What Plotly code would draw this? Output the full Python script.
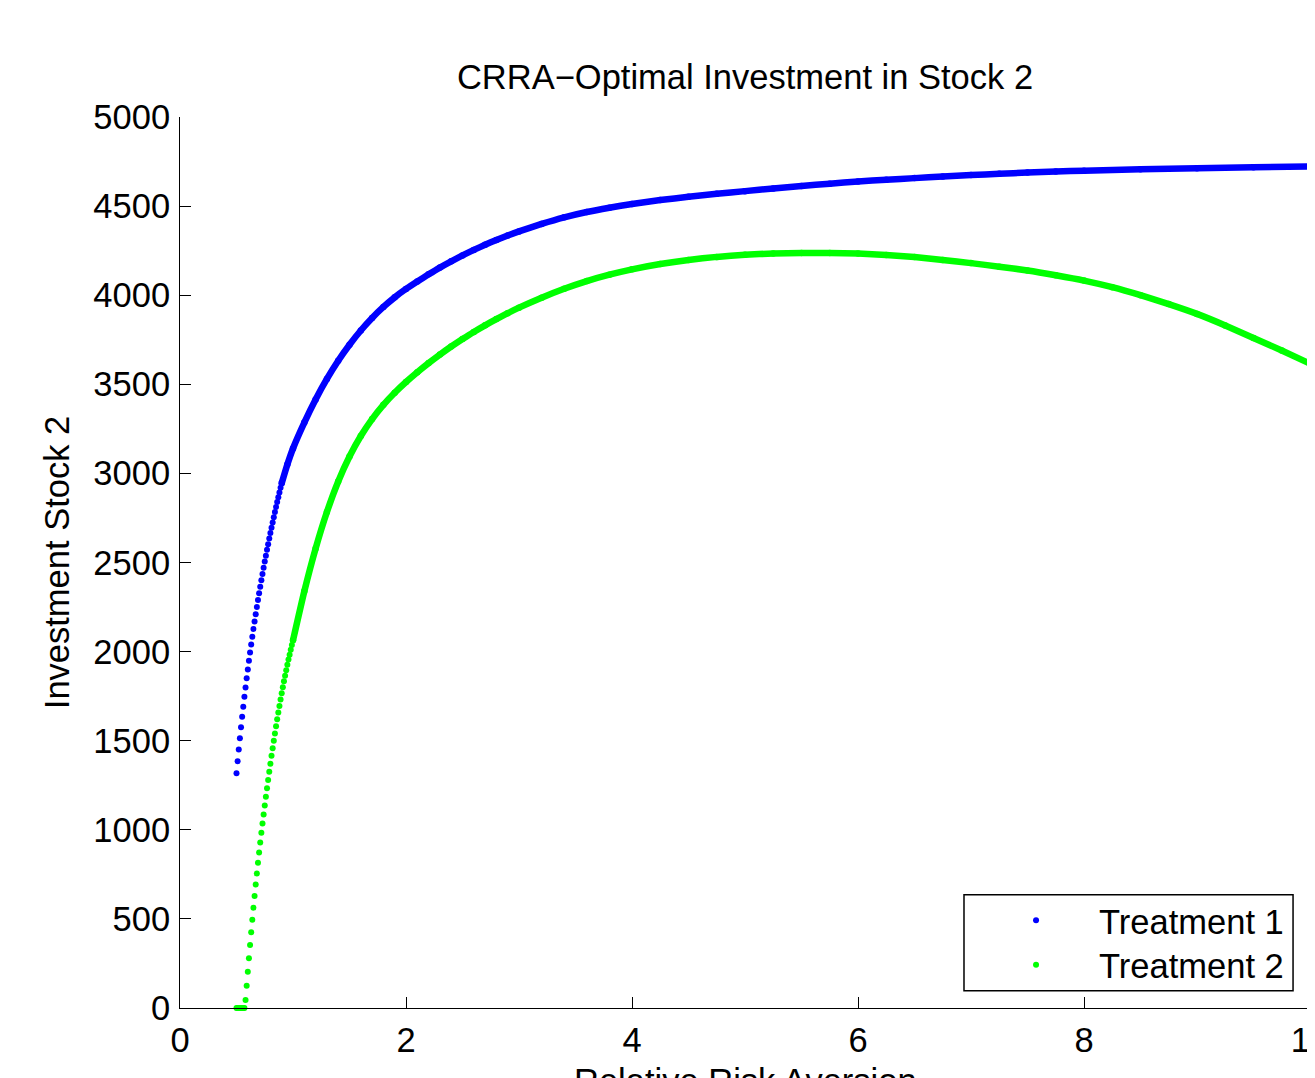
import plotly.graph_objects as go

# ---- data ----
# Treatment 1: densely sampled start (distinct dots)
t1_x_dots = [0.50, 0.51, 0.52, 0.53, 0.54, 0.55, 0.56, 0.57, 0.58, 0.59,
             0.60, 0.61, 0.62, 0.63, 0.64, 0.65, 0.66, 0.67, 0.68, 0.69,
             0.70, 0.71, 0.72, 0.73, 0.74, 0.75, 0.76, 0.77, 0.78, 0.79,
             0.80, 0.81, 0.82, 0.83, 0.84, 0.85, 0.86, 0.87, 0.88, 0.89, 0.90]
t1_y_dots = [1317, 1385, 1451, 1514, 1575, 1634, 1691, 1746, 1799, 1850,
             1900, 1948, 1995, 2040, 2084, 2127, 2169, 2210, 2250, 2289,
             2327, 2364, 2400, 2436, 2471, 2505, 2538, 2571, 2603, 2634,
             2665, 2695, 2725, 2754, 2783, 2811, 2839, 2866, 2893, 2919, 2945]
# Treatment 1: remaining dense band
t1_x_band = [0.95, 1.0, 1.1, 1.2, 1.3, 1.4, 1.5, 1.6, 1.7, 1.8, 1.9, 2.0,
             2.1, 2.2, 2.3, 2.4, 2.5, 2.6, 2.7, 2.8, 2.9, 3.0, 3.2, 3.4,
             3.6, 3.8, 4.0, 4.25, 4.5, 4.75, 5.0, 5.25, 5.5, 5.75, 6.0,
             6.25, 6.5, 6.75, 7.0, 7.25, 7.5, 7.75, 8.0, 8.5, 9.0, 9.5, 10.0]
t1_y_band = [3050, 3140, 3285, 3415, 3530, 3632, 3722, 3802, 3872, 3934, 3988, 4035,
             4077, 4117, 4155, 4190, 4223, 4254, 4283, 4310, 4335, 4358, 4400, 4437,
             4467, 4491, 4512, 4534, 4552, 4569, 4584, 4599, 4613, 4626, 4638,
             4648, 4657, 4666, 4674, 4681, 4688, 4694, 4699, 4707, 4713, 4718, 4722]

# Treatment 2: densely sampled start (distinct dots)
t2_x_dots = [0.50, 0.51, 0.52, 0.53, 0.54, 0.55, 0.56, 0.57, 0.58, 0.59,
             0.60, 0.61, 0.62, 0.63, 0.64, 0.65, 0.66, 0.67, 0.68, 0.69,
             0.70, 0.71, 0.72, 0.73, 0.74, 0.75, 0.76, 0.77, 0.78, 0.79,
             0.80, 0.81, 0.82, 0.83, 0.84, 0.85, 0.86, 0.87, 0.88, 0.89,
             0.90, 0.91, 0.92, 0.93, 0.94, 0.95, 0.96, 0.97, 0.98, 0.99, 1.00]
t2_y_dots = [0, 0, 0, 0, 0, 0, 0, 0, 45, 125,
             203, 279, 353, 425, 495, 563, 629, 693, 755, 815,
             873, 929, 983, 1035, 1086, 1136, 1185, 1233, 1280, 1326,
             1371, 1415, 1458, 1500, 1541, 1581, 1620, 1658, 1695, 1731,
             1766, 1800, 1833, 1865, 1896, 1926, 1955, 1983, 2010, 2037, 2063]
# Treatment 2: remaining dense band
t2_x_band = [1.1, 1.2, 1.3, 1.4, 1.5, 1.6, 1.7, 1.8, 1.9, 2.0, 2.1, 2.2,
             2.3, 2.4, 2.5, 2.6, 2.7, 2.8, 2.9, 3.0, 3.2, 3.4, 3.6, 3.8,
             4.0, 4.25, 4.5, 4.75, 5.0, 5.25, 5.5, 5.75, 6.0, 6.25, 6.5,
             6.75, 7.0, 7.25, 7.5, 7.75, 8.0, 8.25, 8.5, 8.75, 9.0, 9.25,
             9.5, 9.75, 10.0]
t2_y_band = [2338, 2578, 2783, 2955, 3095, 3210, 3305, 3385, 3453, 3513, 3568, 3619,
             3667, 3712, 3754, 3794, 3831, 3866, 3899, 3930, 3986, 4036, 4079, 4115,
             4145, 4175, 4198, 4215, 4227, 4234, 4237, 4237, 4234, 4226, 4214,
             4198, 4180, 4160, 4139, 4112, 4082, 4045, 4000, 3950, 3895, 3830,
             3760, 3690, 3616]

x_ticks = [0, 2, 4, 6, 8, 10]
y_ticks = [0, 500, 1000, 1500, 2000, 2500, 3000, 3500, 4000, 4500, 5000]

names = ["Treatment 1", "Treatment 2"]
BLUE = "#0000ff"
GREEN = "#00ff00"
FONT = "Liberation Sans, Arial, Helvetica, sans-serif"
FS = 34.5

fig = go.Figure()

for name, color, xd, yd, xb, yb, leg in [
    (names[0], BLUE, t1_x_dots, t1_y_dots, t1_x_band, t1_y_band, "legend"),
    (names[1], GREEN, t2_x_dots, t2_y_dots, t2_x_band, t2_y_band, "legend2"),
]:
    fig.add_trace(go.Scatter(
        x=[xd[-1]] + xb, y=[yd[-1]] + yb, mode="lines+markers",
        line=dict(color=color, width=6.5, shape="spline", smoothing=0.5),
        marker=dict(color=color, size=6.5),
        showlegend=False, cliponaxis=False, hoverinfo="skip"))
    fig.add_trace(go.Scatter(
        x=xd, y=yd, mode="markers", name=name, legend=leg,
        marker=dict(color=color, size=6),
        cliponaxis=False))

# legend box (paper coords of plot area)
fig.add_shape(type="rect", xref="paper", yref="paper",
              x0=0.6938, x1=0.985, y0=0.0194, y1=0.1272,
              line=dict(color="black", width=1.5), fillcolor="white",
              layer="below")

leg_common = dict(x=0.7018, xanchor="left", yanchor="top",
                  bgcolor="rgba(0,0,0,0)", borderwidth=0,
                  font=dict(family=FONT, size=FS, color="black"),
                  itemwidth=116)

fig.update_layout(
    width=1307, height=1070,
    margin=dict(l=172, r=5, t=109, b=70, autoexpand=False),
    plot_bgcolor="white", paper_bgcolor="white",
    font=dict(family=FONT, size=FS, color="black"),
    title=dict(text="CRRA\u2212Optimal Investment in Stock 2",
               x=0.5, xref="paper", xanchor="center",
               y=1 - 69 / 1070, yref="container", yanchor="middle",
               font=dict(family=FONT, size=FS, color="black")),
    legend=dict(y=0.1309, **leg_common),
    legend2=dict(y=0.0811, **leg_common),
    showlegend=True,
    annotations=[dict(text="Relative Risk Aversion", xref="paper", yref="paper",
                      x=0.5, y=-0.0816, xanchor="center", yanchor="middle",
                      showarrow=False,
                      font=dict(family=FONT, size=FS, color="black"))],
)

fig.update_xaxes(
    range=[0, 10], tickvals=x_ticks, ticktext=[str(v) for v in x_ticks],
    ticks="inside", ticklen=11, tickwidth=1, tickcolor="black",
    showline=True, linecolor="black", linewidth=1, mirror=False,
    showgrid=False, zeroline=False, ticklabelstandoff=2,
    ticklabeloverflow="allow",
)
fig.update_yaxes(
    range=[0, 5000], tickvals=y_ticks, ticktext=[str(v) for v in y_ticks],
    ticks="inside", ticklen=11, tickwidth=1, tickcolor="black",
    showline=True, linecolor="black", linewidth=1, mirror=False,
    showgrid=False, zeroline=False, ticklabelstandoff=2,
    ticklabeloverflow="allow",
    title=dict(text="Investment Stock 2", standoff=13,
               font=dict(family=FONT, size=FS, color="black")),
)

fig.write_html("out.html")
